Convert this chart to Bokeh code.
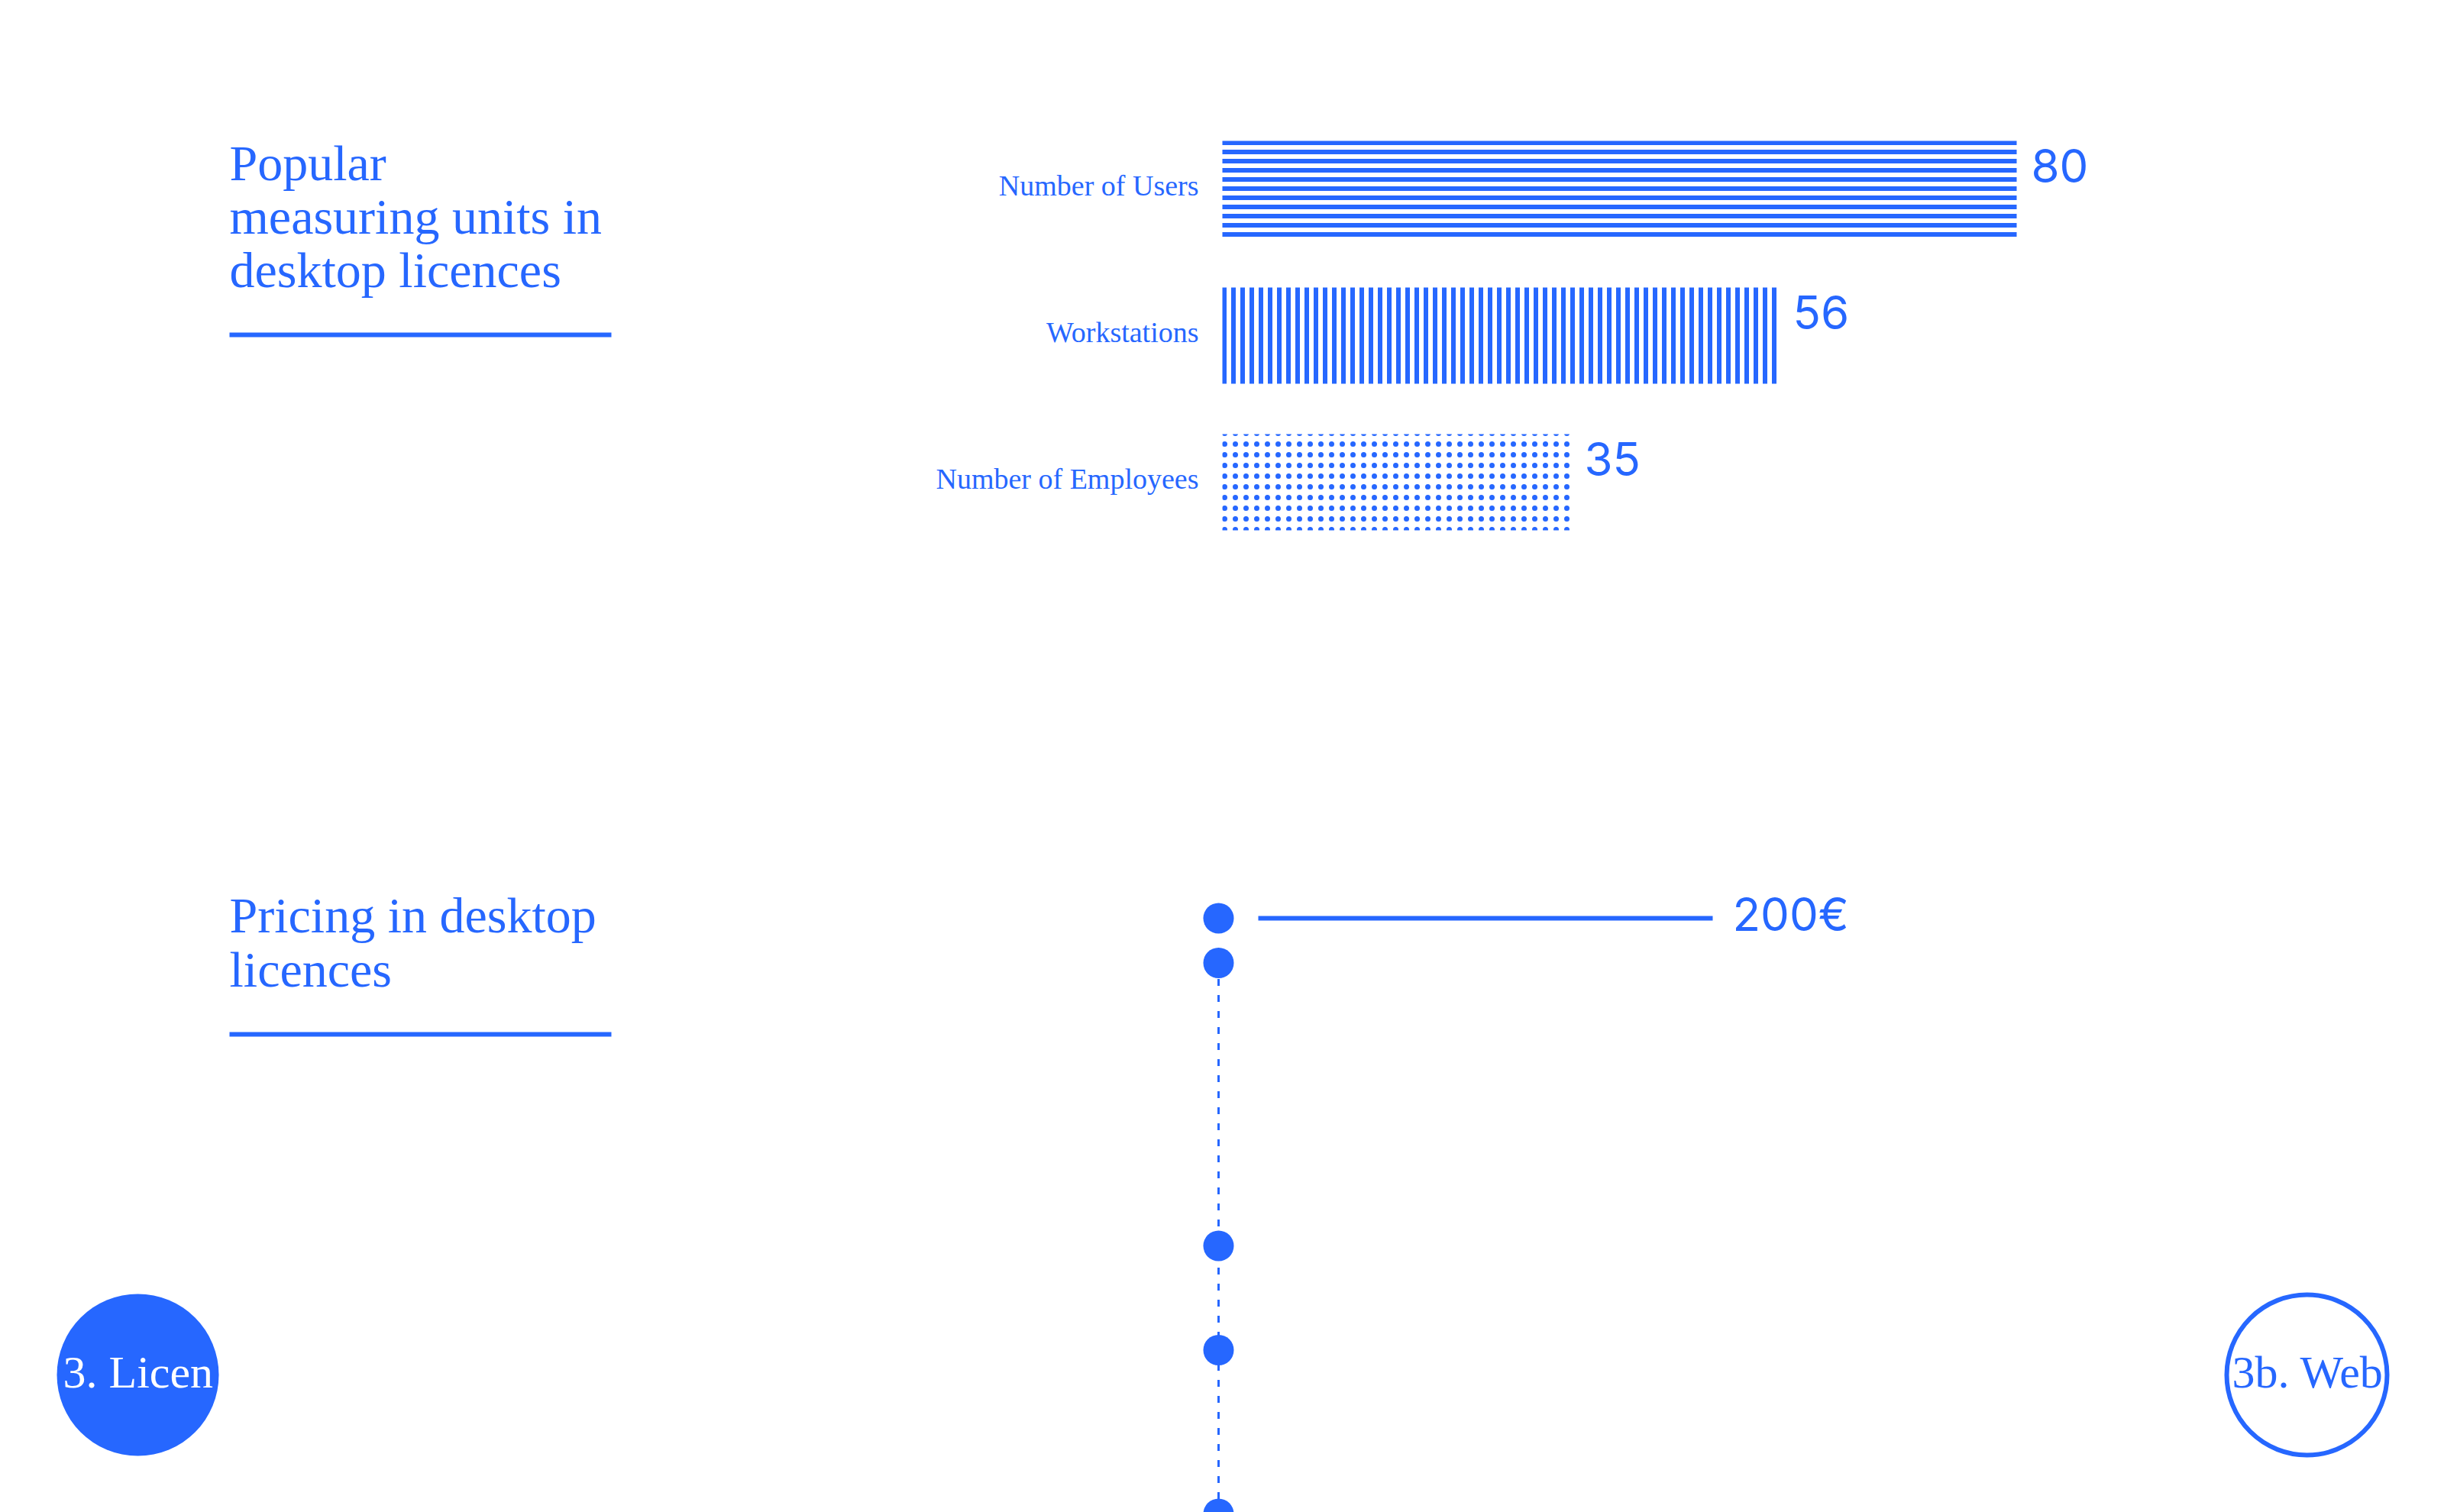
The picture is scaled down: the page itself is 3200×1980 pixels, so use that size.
from bokeh.plotting import figure
from bokeh.models import Range1d, ColumnDataSource
from bokeh.core.properties import value
from bokeh.embed import file_html
from bokeh.resources import INLINE

# ---------------- data ----------------
unit_categories = ["Number of Users", "Workstations", "Number of Employees"]
unit_counts = [80, 56, 35]

price_points = [200, 185, 90, 55, 0]
price_currency = "€"

title_units = ["Popular", "measuring units in", "desktop licences"]
title_pricing = ["Pricing in desktop", "licences"]

nav_prev = "3. Licen"
nav_next = "3b. Web"

# ---------------- styling / layout ----------------
W, H = 3200, 1980
BLUE = "#2667ff"
SERIF = value("Liberation Serif")
SANS = value("Inter")

BAR_X0 = 1600          # pixel where value 0 sits
PX_PER_UNIT = 13.0     # pixels per count
ROW0 = 247             # pixel center of first bar row
ROW_STEP = 192         # pixels between bar rows
BAR_PX = 126           # bar thickness in pixels

PRICE0_PX = 1982       # pixel of 0 €
PX_PER_EUR = 3.9
DOT_X = 1595

patterns = ["horizontal_line", "vertical_line", "dot"]
pattern_scale = [12, 12, 14]
pattern_weight = [6, 6, 1]

p = figure(width=W, height=H, x_range=Range1d(0, W), y_range=Range1d(H, 0),
           output_backend="svg", toolbar_location=None, min_border=0,
           x_axis_location=None, y_axis_location=None,
           outline_line_color=None, background_fill_color="white",
           border_fill_color="white")
p.grid.visible = False

p.extra_x_ranges["units"] = Range1d(-BAR_X0 / PX_PER_UNIT, (W - BAR_X0) / PX_PER_UNIT)
p.extra_y_ranges["rows"] = Range1d(start=(H - ROW0) / ROW_STEP, end=-ROW0 / ROW_STEP)
p.extra_y_ranges["price"] = Range1d(start=(PRICE0_PX - H) / PX_PER_EUR, end=PRICE0_PX / PX_PER_EUR)

# ---------------- bar chart ----------------
rows = list(range(len(unit_categories)))
bh = BAR_PX / ROW_STEP
src = ColumnDataSource(dict(
    y=rows, right=unit_counts, cat=unit_categories,
    lab=[str(c) for c in unit_counts],
    top=[r - bh / 2 for r in rows],
    pat=patterns, sc=pattern_scale, wt=pattern_weight,
))
p.hbar(y="y", left=0, right="right", height=bh, source=src,
       x_range_name="units", y_range_name="rows",
       fill_alpha=0, line_color=None,
       hatch_pattern="pat", hatch_scale="sc", hatch_weight="wt",
       hatch_color=BLUE, hatch_alpha=1.0)
p.text(x="right", y="top", text="lab", source=src,
       x_range_name="units", y_range_name="rows",
       x_offset=19, y_offset=32, text_baseline="alphabetic", text_align="left",
       text_font=SANS, text_font_size="60px", text_color=BLUE)
p.text(x=0, y="y", text="cat", source=src,
       x_range_name="units", y_range_name="rows",
       x_offset=-31, y_offset=-5, text_baseline="alphabetic", text_align="right",
       text_font=SERIF, text_font_size="38px", text_color=BLUE)

# ---------------- price chart ----------------
top_price = max(price_points)
p.line(x=[DOT_X] * (len(price_points) - 1), y=price_points[1:],
       y_range_name="price", line_color=BLUE, line_width=3, line_dash="9 12")
p.scatter(x=[DOT_X] * len(price_points), y=price_points, y_range_name="price",
          size=40, fill_color=BLUE, line_color=None)
p.segment(x0=[1647], x1=[2242], y0=[top_price], y1=[top_price],
          y_range_name="price", line_color=BLUE, line_width=6)
p.text(x=[2268], y=[top_price], text=[f"{top_price}{price_currency}"],
       y_range_name="price", y_offset=-6, text_baseline="alphabetic",
       text_font=SANS, text_font_size="60px", text_color=BLUE)

# ---------------- section titles ----------------
p.text(x=[300] * 3, y=[213, 283, 353], text=title_units,
       text_baseline="alphabetic", text_font=SERIF, text_font_size="66px",
       text_color=BLUE)
p.text(x=[300] * 2, y=[1198, 1269], text=title_pricing,
       text_baseline="alphabetic", text_font=SERIF, text_font_size="66px",
       text_color=BLUE)
p.segment(x0=[300, 300], x1=[800, 800], y0=[438, 1354], y1=[438, 1354],
          line_color=BLUE, line_width=6)

# ---------------- navigation circles ----------------
p.circle(x=[180], y=[1800], radius=106, fill_color=BLUE, line_color=None)
p.circle(x=[3020], y=[1800], radius=105, fill_color="white",
         line_color=BLUE, line_width=6)
p.text(x=[82], y=[1796], text=[nav_prev], text_baseline="alphabetic",
       text_font=SERIF, text_font_size="60px", text_color="white")
p.text(x=[2922], y=[1796], text=[nav_next], text_baseline="alphabetic",
       text_font=SERIF, text_font_size="60px", text_color=BLUE)

open("out.html", "w").write(file_html(p, INLINE))
